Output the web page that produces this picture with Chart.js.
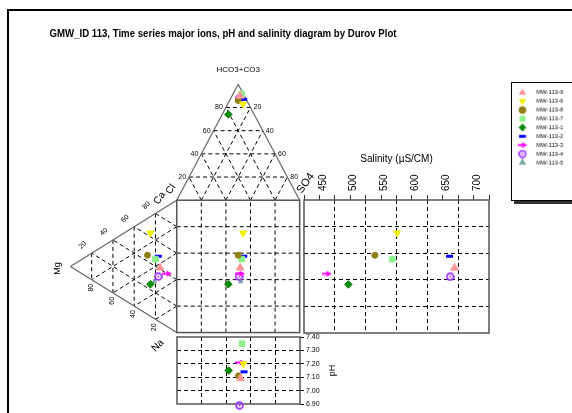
<!DOCTYPE html>
<html>
<head>
<meta charset="utf-8">
<script src="https://cdn.jsdelivr.net/npm/chart.js@4.4.0/dist/chart.umd.min.js"></script>
<style>
html, body { margin: 0; padding: 0; background: #fff; width: 572px; height: 413px; overflow: hidden; }
body { position: relative; }
#frame { position: absolute; left: 7px; top: 9px; width: 700px; height: 600px; border-left: 2px solid #000; border-top: 2px solid #000; }
canvas { position: absolute; }
#main { left: 0; top: 0; }
#sal { left: 288px; top: 140px; }
#ph { left: 170px; top: 330px; }
#leg { left: 511px; top: 82px; border: 1px solid #000; background: #fff; box-shadow: 3px 3px 0 #333; }
</style>
</head>
<body>
<div id="frame"></div>
<canvas id="main" width="572" height="413"></canvas>
<canvas id="sal" width="208" height="200"></canvas>
<canvas id="ph" width="175" height="83"></canvas>
<canvas id="leg" width="75" height="119"></canvas>
<script>
// wells, in legend order
const wells = ['MW-113-9', 'MW-113-6', 'MW-113-8', 'MW-113-7', 'MW-113-1', 'MW-113-2', 'MW-113-3', 'MW-113-4', 'MW-113-5'];
// anions (% meq)
const hco3 = [90, 83, 86, 91.7, 74, 87, 88, 87.5, 89];
const so4 = [6.6, 12.5, 7, 7, 5, 11, 7.6, 7, 7.5];
const cl = [3.4, 4.5, 7, 1.3, 21, 2, 4.4, 5.5, 3.5];
// cations (% meq)
const ca = [41.1, 62.8, 44.7, 45.5, 24.1, 49, 39.9, 33.6, 28.1];
const mg = [15.6, 24.8, 27.5, 20, 24.8, 17.4, 9.2, 17.4, 21.1];
const na = [43.3, 12.4, 27.8, 34.5, 51.1, 33.6, 50.9, 49, 50.8];
// salinity (uS/cm) and pH
const salinity = [644, 551, 515, 543, 472, 636, 437, 637, null];
const ph = [7.09, 7.20, 7.11, 7.35, 7.15, 7.14, 7.21, 6.89, null];
// axis ranges / grid levels
const pctLines = [20, 40, 60, 80];
const salRange = [400, 700];
const phRange = [6.9, 7.4];

const FONT = '"Liberation Sans", Arial, sans-serif';
Chart.defaults.font.family = FONT;
Chart.defaults.color = '#000';

// layout of the durov square (px) and triangle apexes
const SQ = { left: 174, right: 300, top: 200, bottom: 337 };
const APEX_TOP = 80;
const APEX_LEFT = 65;
const ux = (SQ.right - SQ.left) / 100;
const uy = (SQ.bottom - SQ.top) / 100;
const triH = (SQ.top - APEX_TOP) / uy;
const triW = (SQ.left - APEX_LEFT) / ux;

const sqX = i => so4[i] + hco3[i] / 2;
const sqY = i => 100 - na[i] - mg[i] / 2;

function arrowImg(color) {
    const c = document.createElement('canvas');
    c.width = 10; c.height = 7;
    const g = c.getContext('2d');
    g.strokeStyle = color; g.lineWidth = 2;
    g.beginPath(); g.moveTo(0, 3.5); g.lineTo(6, 3.5); g.stroke();
    g.fillStyle = color;
    g.beginPath(); g.moveTo(4.5, 0.5); g.lineTo(10, 3.5); g.lineTo(4.5, 6.5); g.closePath(); g.fill();
    return c;
}
function ringImg(color) {
    const c = document.createElement('canvas');
    c.width = 9; c.height = 9;
    const g = c.getContext('2d');
    g.strokeStyle = color; g.lineWidth = 1.8;
    g.beginPath(); g.arc(4.5, 4.5, 3.4, 0, Math.PI * 2); g.stroke();
    g.fillStyle = color;
    g.beginPath(); g.arc(4.5, 4.5, 1, 0, Math.PI * 2); g.fill();
    return c;
}

const markers = [
    { style: 'triangle', color: '#ff9898', r: 4.5 },
    { style: 'triangle', rot: 180, color: '#f4f000', r: 4 },
    { style: 'circle', color: '#8f7f14', r: 3 },
    { style: 'rect', color: '#8cf08c', r: 4 },
    { style: 'rectRot', color: '#088c08', r: 3.8 },
    { style: 'line', color: '#0000ff', r: 3.5, w: 3 },
    { style: arrowImg('#ff00ff'), color: '#ff00ff', r: 4 },
    { style: ringImg('#9b30ff'), color: '#9b30ff', r: 4 },
    { style: 'triangle', color: '#7aa6a6', r: 2.6 }
];

function styleOf(i) {
    const m = markers[i];
    return {
        label: wells[i],
        pointStyle: m.style,
        pointRotation: m.rot || 0,
        pointRadius: m.r,
        backgroundColor: m.color,
        borderColor: m.color,
        borderWidth: m.w || 1,
        clip: false
    };
}

function txt(ctx, s, x, y, size, rot, align) {
    ctx.save();
    ctx.translate(x, y);
    ctx.rotate((rot || 0) * Math.PI / 180);
    ctx.font = size + 'px ' + FONT;
    ctx.fillStyle = '#000';
    ctx.textAlign = align || 'center';
    ctx.textBaseline = 'middle';
    ctx.fillText(s, 0, 0);
    ctx.restore();
}

// triangles, square grid and labels of the durov diagram
const durovPlugin = {
    id: 'durov',
    beforeDatasetsDraw(chart) {
        const ctx = chart.ctx, sx = chart.scales.x, sy = chart.scales.y;
        const px = (u, v) => [sx.getPixelForValue(u), sy.getPixelForValue(v)];
        const topPt = (h, s) => px(s + h / 2, 100 + triH * h / 100);
        const leftPt = (m, n) => px(-triW * m / 100, 100 - n - m / 2);
        const seg = (a, b) => { ctx.moveTo(a[0], a[1]); ctx.lineTo(b[0], b[1]); };

        ctx.save();
        ctx.setLineDash([4, 3]);
        ctx.strokeStyle = '#000';
        ctx.lineWidth = 1;
        ctx.beginPath();
        pctLines.forEach(k => {
            seg(topPt(k, 0), topPt(k, 100 - k));
            seg(topPt(0, k), topPt(100 - k, k));
            seg(topPt(0, 100 - k), topPt(100 - k, 0));
            seg(leftPt(k, 0), leftPt(k, 100 - k));
            seg(leftPt(0, k), leftPt(100 - k, k));
            seg(leftPt(0, 100 - k), leftPt(100 - k, 0));
            seg(px(k, 0), px(k, 100));
            seg(px(0, k), px(100, k));
        });
        ctx.stroke();

        ctx.setLineDash([]);
        ctx.strokeStyle = '#666';
        ctx.lineWidth = 1.2;
        const L = topPt(0, 0), R = topPt(0, 100), A = topPt(100, 0);
        const Ca = leftPt(0, 0), Na = leftPt(0, 100), Mg = leftPt(100, 0);
        ctx.beginPath();
        seg(L, A); seg(A, R);
        seg(Ca, Mg); seg(Mg, Na);
        ctx.stroke();
        ctx.lineWidth = 1.5;
        ctx.strokeStyle = '#555';
        const a = px(0, 100), b = px(100, 0);
        ctx.strokeRect(a[0], a[1], b[0] - a[0], b[1] - a[1]);

        // scale numbers on the triangles
        pctLines.forEach(k => {
            const p1 = topPt(k, 0), p2 = topPt(k, 100 - k);
            txt(ctx, String(k), p1[0] - 3, p1[1], 7, 0, 'right');
            txt(ctx, String(100 - k), p2[0] + 3, p2[1], 7, 0, 'left');
            const q1 = leftPt(k, 0), q2 = leftPt(k, 100 - k);
            txt(ctx, String(100 - k), q1[0] - 9, q1[1] - 8, 7, -45);
            txt(ctx, String(k), q2[0] - 1, q2[1] + 8, 7, -90);
        });
        txt(ctx, 'HCO3+CO3', A[0], A[1] - 14, 8);
        txt(ctx, 'SO4', R[0] + 6, R[1] - 17, 11, -55);
        txt(ctx, 'Cl', L[0] - 6, L[1] - 11, 10, -55);
        txt(ctx, 'Ca', L[0] - 17, L[1] - 2, 10, -55);
        txt(ctx, 'Mg', Mg[0] - 13, Mg[1] + 2, 9, -90);
        txt(ctx, 'Na', Na[0] - 19, Na[1] + 13, 10, -45);

        // title
        const title = 'GMW_ID 113, Time series major ions, pH and salinity diagram by Durov Plot';
        ctx.font = 'bold 11px ' + FONT;
        const w = ctx.measureText(title).width;
        ctx.translate(223, 37);
        ctx.scale(Math.min(1, 347 / w), 1);
        ctx.textAlign = 'center';
        ctx.textBaseline = 'alphabetic';
        ctx.fillStyle = '#000';
        ctx.fillText(title, 0, 0);
        ctx.restore();
    }
};

const boxPlugin = {
    id: 'box',
    beforeDatasetsDraw(chart) {
        const ctx = chart.ctx, a = chart.chartArea;
        ctx.save();
        ctx.strokeStyle = '#555';
        ctx.lineWidth = 1.5;
        ctx.strokeRect(a.left, a.top, a.right - a.left, a.bottom - a.top);
        ctx.restore();
    }
};

const hidden = 'rgba(0,0,0,0)';

// main diagram: triangles + square
new Chart(document.getElementById('main'), {
    type: 'scatter',
    data: {
        datasets: wells.map((w, i) => Object.assign(styleOf(i), {
            data: [
                { x: sqX(i), y: 100 + triH * hco3[i] / 100 },
                { x: -triW * mg[i] / 100, y: sqY(i) },
                { x: sqX(i), y: sqY(i) }
            ]
        }))
    },
    options: {
        responsive: false,
        animation: false,
        events: [],
        layout: { padding: 0 },
        scales: {
            x: { type: 'linear', display: false, min: -SQ.left / ux, max: (572 - SQ.left) / ux },
            y: { type: 'linear', display: false, min: -(413 - SQ.bottom) / uy, max: 100 + SQ.top / uy }
        },
        plugins: { legend: { display: false }, tooltip: { enabled: false } }
    },
    plugins: [durovPlugin]
});

// salinity panel
new Chart(document.getElementById('sal'), {
    type: 'scatter',
    data: {
        datasets: wells.map((w, i) => Object.assign(styleOf(i), {
            data: salinity[i] == null ? [] : [{ x: salinity[i], y: sqY(i) }]
        }))
    },
    options: {
        responsive: false,
        animation: false,
        events: [],
        layout: { padding: { left: 12, right: 7, top: 0, bottom: 3 } },
        scales: {
            x: {
                type: 'linear', position: 'top', min: salRange[0], max: salRange[1],
                ticks: {
                    stepSize: 25, autoSkip: false, minRotation: 90, maxRotation: 90, padding: 4,
                    font: { size: 10 }, color: '#000',
                    callback: v => (v % 50 === 0 && v > salRange[0]) ? String(v) : ''
                },
                grid: {
                    tickLength: 5, tickColor: '#333',
                    color: c => (c.tick && c.tick.value % 50 === 0 && c.tick.value > salRange[0] && c.tick.value < salRange[1]) ? '#000' : hidden
                },
                border: { display: false, dash: [4, 3] },
                title: { display: true, text: 'Salinity (µS/CM)', font: { size: 10 }, color: '#000', padding: { top: 13, bottom: 0 } },
                afterFit: s => { s.height = 60; }
            },
            y: {
                type: 'linear', min: 0, max: 100,
                ticks: { display: false, stepSize: 20 },
                grid: { drawTicks: false, color: c => (c.tick && c.tick.value > 0 && c.tick.value < 100) ? '#000' : hidden },
                border: { display: false, dash: [4, 3] },
                afterFit: s => { s.width = 0; }
            }
        },
        plugins: { legend: { display: false }, tooltip: { enabled: false } }
    },
    plugins: [boxPlugin]
});

// pH panel
new Chart(document.getElementById('ph'), {
    type: 'scatter',
    data: {
        datasets: wells.map((w, i) => Object.assign(styleOf(i), {
            data: ph[i] == null ? [] : [{ x: sqX(i), y: ph[i] }]
        }))
    },
    options: {
        responsive: false,
        animation: false,
        events: [],
        layout: { padding: { left: 4, right: 0, top: 7, bottom: 9 } },
        scales: {
            x: {
                type: 'linear', min: 0, max: 100,
                ticks: { display: false, stepSize: 20 },
                grid: { drawTicks: false, color: c => (c.tick && c.tick.value > 0 && c.tick.value < 100) ? '#000' : hidden },
                border: { display: false, dash: [4, 3] },
                afterFit: s => { s.height = 0; }
            },
            y: {
                type: 'linear', position: 'right', min: phRange[0], max: phRange[1],
                ticks: { stepSize: 0.1, padding: 2, font: { size: 7 }, color: '#000', callback: v => v.toFixed(2) },
                grid: {
                    tickLength: 4, tickColor: '#000',
                    color: c => (c.tick && c.tick.value > phRange[0] + 0.05 && c.tick.value < phRange[1] - 0.05) ? '#000' : hidden
                },
                border: { display: false, dash: [4, 3] },
                afterFit: s => { s.width = 45; }
            }
        },
        plugins: { legend: { display: false }, tooltip: { enabled: false } }
    },
    plugins: [boxPlugin, {
        id: 'phTitle',
        afterDraw(chart) {
            const a = chart.chartArea;
            txt(chart.ctx, 'pH', a.right + 33, (a.top + a.bottom) / 2, 9, -90);
        }
    }]
});

// legend box
new Chart(document.getElementById('leg'), {
    type: 'scatter',
    data: { datasets: wells.map((w, i) => Object.assign(styleOf(i), { data: [] })) },
    options: {
        responsive: false,
        animation: false,
        events: [],
        layout: { padding: { top: 3.8, left: 4.8 } },
        scales: { x: { display: false }, y: { display: false } },
        plugins: {
            tooltip: { enabled: false },
            legend: {
                position: 'left', align: 'start', maxWidth: 120,
                labels: {
                    usePointStyle: true, boxHeight: 5, boxWidth: 7, padding: 2.9,
                    color: '#000', font: { size: 6 },
                    generateLabels: chart => Chart.defaults.plugins.legend.labels.generateLabels(chart)
                        .map(l => Object.assign(l, { text: '     ' + l.text }))
                }
            }
        }
    }
});
</script>
</body>
</html>
